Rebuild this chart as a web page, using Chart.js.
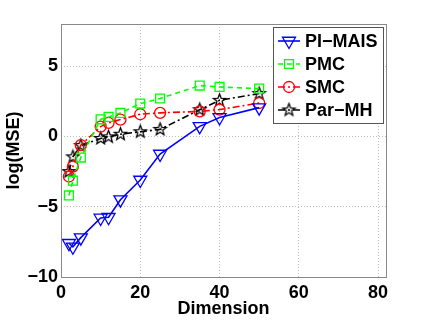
<!DOCTYPE html>
<html>
<head>
<meta charset="utf-8">
<script src="https://cdn.jsdelivr.net/npm/chart.js@4/dist/chart.umd.min.js"></script>
<style>
  html, body { margin: 0; padding: 0; background: #fff; }
  #wrap { width: 426px; height: 320px; }
</style>
</head>
<body>
<div id="wrap"><canvas id="myChart" width="426" height="320"></canvas></div>
<script>
// values
const dims = [2, 3, 5, 10, 12, 15, 20, 25, 35, 40, 50];
const piMais = [-7.6, -7.85, -7.2, -5.8, -5.75, -4.5, -3.1, -1.25, 0.72, 1.35, 2.05];
const pmc = [-4.2, -3.15, -1.5, 1.22, 1.39, 1.67, 2.34, 2.7, 3.62, 3.52, 3.4];
const smc = [-2.85, -2.15, -0.62, 0.7, 0.97, 1.2, 1.58, 1.68, 1.78, 1.91, 2.38];
const parMh = [-2.5, -1.45, -0.65, -0.14, -0.03, 0.16, 0.33, 0.5, 1.9, 2.57, 3.05];
const xTicks = [0, 20, 40, 60, 80];
const yTicks = [-10, -5, 0, 5];

const fontFamily = '"Liberation Sans", Arial, Helvetica, sans-serif';

function pts(ys) {
    return dims.map((d, i) => ({x: d, y: ys[i]}));
}

// pentagram marker like matlab 'p'
function makeStar(r) {
    const c = document.createElement('canvas');
    const s = Math.ceil(r * 2 + 4);
    c.width = s; c.height = s;
    const g = c.getContext('2d');
    g.beginPath();
    for (let k = 0; k < 10; k++) {
        const rad = (k % 2 === 0) ? r : r * 0.42;
        const a = -Math.PI / 2 + k * Math.PI / 5;
        const px = s / 2 + rad * Math.cos(a);
        const py = s / 2 + rad * Math.sin(a);
        if (k === 0) g.moveTo(px, py); else g.lineTo(px, py);
    }
    g.closePath();
    g.lineWidth = 1.3;
    g.strokeStyle = '#000';
    g.stroke();
    return c;
}
const starImg = makeStar(6.5);

const datasets = [{
    label: 'PI\u2212MAIS',
    data: pts(piMais),
    borderColor: '#0000ff',
    borderWidth: 1.6,
    pointStyle: 'triangle',
    pointRotation: 180,
    pointRadius: 7.5,
    pointBorderWidth: 1.3,
    pointBackgroundColor: 'rgba(0,0,0,0)',
    pointBorderColor: '#0000ff'
}, {
    label: 'PMC',
    data: pts(pmc),
    borderColor: '#00ff00',
    borderWidth: 1.6,
    borderDash: [5, 4],
    pointStyle: 'rect',
    pointRadius: 6.3,
    pointBorderWidth: 1.3,
    pointBackgroundColor: 'rgba(0,0,0,0)',
    pointBorderColor: '#00ff00'
}, {
    label: 'SMC',
    data: pts(smc),
    borderColor: '#ff0000',
    borderWidth: 1.6,
    borderDash: [7, 3, 2, 3],
    pointStyle: 'circle',
    pointRadius: 5.5,
    pointBorderWidth: 1.3,
    pointBackgroundColor: 'rgba(0,0,0,0)',
    pointBorderColor: '#ff0000'
}, {
    label: 'Par\u2212MH',
    data: pts(parMh),
    borderColor: '#000000',
    borderWidth: 1.6,
    borderDash: [7, 3, 2, 3],
    pointStyle: starImg,
    pointRadius: 6.5,
    pointBackgroundColor: 'rgba(0,0,0,0)',
    pointBorderColor: '#000000'
}];

// box round the plot area plus the legend in the upper right corner
const boxAndLegend = {
    id: 'boxAndLegend',
    afterDraw(chart) {
        const ctx = chart.ctx;
        const a = chart.chartArea;
        ctx.save();
        ctx.strokeStyle = '#888';
        ctx.lineWidth = 1;
        ctx.strokeRect(Math.round(a.left) + 0.5, Math.round(a.top) + 0.5,
            Math.round(a.right - a.left), Math.round(a.bottom - a.top));

        const w = 110, h = 96;
        const lx = a.right - 3 - w, ly = a.top + 3;
        ctx.fillStyle = '#fff';
        ctx.fillRect(lx, ly, w, h);
        ctx.strokeStyle = '#555';
        ctx.strokeRect(Math.round(lx) + 0.5, Math.round(ly) + 0.5, w, h);

        ctx.font = 'bold 18px ' + fontFamily;
        ctx.textBaseline = 'middle';
        ctx.textAlign = 'left';
        chart.data.datasets.forEach((ds, i) => {
            const yy = ly + 14 + i * 23;
            ctx.save();
            ctx.strokeStyle = ds.borderColor;
            ctx.lineWidth = ds.borderWidth;
            ctx.setLineDash(ds.borderDash || []);
            ctx.beginPath();
            ctx.moveTo(lx + 5, yy);
            ctx.lineTo(lx + 27, yy);
            ctx.stroke();
            ctx.setLineDash([]);
            ctx.strokeStyle = ds.pointBorderColor;
            ctx.fillStyle = ds.pointBackgroundColor;
            ctx.lineWidth = ds.pointBorderWidth || 1;
            Chart.helpers.drawPoint(ctx, {
                pointStyle: ds.pointStyle,
                rotation: ds.pointRotation || 0,
                radius: ds.pointRadius,
                borderWidth: ds.pointBorderWidth || 1
            }, lx + 16, yy);
            ctx.restore();
            ctx.fillStyle = '#000';
            ctx.fillText(ds.label, lx + 32, yy + 1);
        });
        ctx.restore();
    }
};

const config = {
    type: 'line',
    data: {datasets: datasets},
    options: {
        responsive: false,
        animation: false,
        layout: {padding: {left: 3, right: 40, top: 24, bottom: 0}},
        plugins: {legend: {display: false}, tooltip: {enabled: false}},
        scales: {
            x: {
                type: 'linear',
                min: 0,
                max: 82,
                afterBuildTicks: (scale) => { scale.ticks = xTicks.map(v => ({value: v})); },
                afterFit: (scale) => { scale.height = 43; },
                grid: {color: '#bdbdbd', drawTicks: false},
                border: {display: false, dash: [1, 2]},
                ticks: {
                    color: '#000',
                    padding: 5,
                    maxRotation: 0,
                    font: {family: fontFamily, size: 18, weight: 'bold'}
                },
                title: {
                    display: true,
                    text: 'Dimension',
                    color: '#000',
                    padding: {top: 0, bottom: 0},
                    font: {family: fontFamily, size: 18, weight: 'bold'}
                }
            },
            y: {
                min: -10,
                max: 8,
                afterBuildTicks: (scale) => { scale.ticks = yTicks.map(v => ({value: v})); },
                afterFit: (scale) => { scale.width = 58; },
                grid: {color: '#bdbdbd', drawTicks: false},
                border: {display: false, dash: [1, 2]},
                ticks: {
                    color: '#000',
                    padding: 3,
                    font: {family: fontFamily, size: 18, weight: 'bold'},
                    callback: (v) => String(v).replace('-', '\u2212')
                },
                title: {
                    display: true,
                    text: 'log(MSE)',
                    color: '#000',
                    padding: {top: 0, bottom: 0},
                    font: {family: fontFamily, size: 18, weight: 'bold'}
                }
            }
        }
    },
    plugins: [boxAndLegend]
};

var myChart = new Chart(document.getElementById('myChart'), config);
</script>
</body>
</html>
